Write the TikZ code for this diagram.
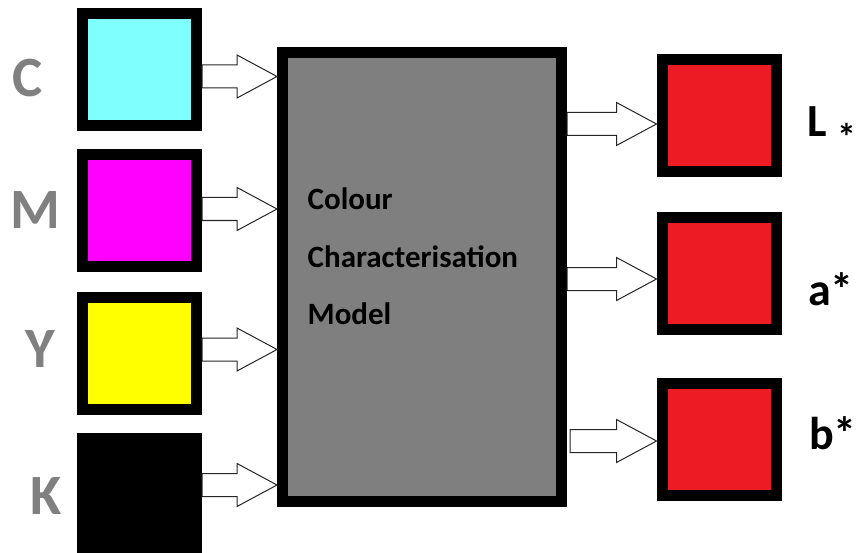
\documentclass[tikz,border=0pt]{standalone}
\usepackage{fontspec}
\setmainfont{Carlito}
\usetikzlibrary{calc}

\definecolor{cyanfill}{HTML}{80FFFF}
\definecolor{magentafill}{HTML}{FF00FF}
\definecolor{yellowfill}{HTML}{FFFF00}
\definecolor{outred}{HTML}{ED1C24}
\definecolor{modelgray}{HTML}{7F7F7F}
\definecolor{labelgray}{HTML}{808080}

\tikzset{
  swatch/.style={draw=black,line width=11pt,minimum width=114pt,minimum height=112pt,inner sep=0pt},
  modelbox/.style={draw=black,line width=11pt,fill=modelgray,minimum width=279pt,minimum height=449pt},
  modeltext/.style={font=\bfseries\fontsize{31}{36}\selectfont,inner sep=0pt,anchor=base west},
  inlabel/.style={font=\bfseries\fontsize{57}{60}\selectfont,text=labelgray,inner sep=0pt},
  outlabel/.style={font=\bfseries\fontsize{46}{50}\selectfont,inner sep=0pt,anchor=base west},
  arrowline/.style={draw=black!85,fill=white,line width=1pt,line join=miter}
}

% hollow block arrow from start point #1 to tip #2 (same height)
\newcommand{\fatarrow}[2]{%
  \draw[arrowline] ($(#1)+(0,-11.5)$) -- ($(#2)+(-40,-11.5)$) -- ($(#2)+(-40,-21.5)$)
    -- (#2) -- ($(#2)+(-40,21.5)$) -- ($(#2)+(-40,11.5)$) -- ($(#1)+(0,11.5)$) -- cycle;
}

\begin{document}
\begin{tikzpicture}[x=1pt,y=-1pt]
  \useasboundingbox (0,0) rectangle (858,553);

  % input inks
  \node[swatch,fill=cyanfill]    (boxC) at (139.5,69.5)  {};
  \node[swatch,fill=magentafill] (boxM) at (139.5,210.5) {};
  \node[swatch,fill=yellowfill]  (boxY) at (139.5,353.5) {};
  \node[swatch,fill=black]       (boxK) at (139.5,494.5) {};

  \node[inlabel] (labC) at (28,78)  {C};
  \node[inlabel] (labM) at (35,210) {M};
  \node[inlabel] (labY) at (40,349) {Y};
  \node[inlabel] (labK) at (46,496) {K};

  % the model
  \node[modelbox] (model) at (422,277) {};
  \foreach \word/\yy [count=\i] in {Colour/210,Characterisation/267,Model/324}
    \node[modeltext] (line\i) at (307.5,\yy) {\word};

  % outputs
  \node[swatch,fill=outred] (boxL) at (719,116)   {};
  \node[swatch,fill=outred] (boxA) at (719,273.5) {};
  \node[swatch,fill=outred] (boxB) at (719,439)   {};

  \node[outlabel] (labL) at (807.5,137) {L {\fontsize{38}{40}\selectfont\raisebox{-14pt}{*}}};
  \node[outlabel] (labA) at (808,305)   {a*};
  \node[outlabel] (labB) at (809,449)   {b*};

  % arrows into the model
  \foreach \sw/\dy in {C/7,M/-1.5,Y/-4,K/-9.5}
  {
    \coordinate (\sw-s) at ($(box\sw.east)+(0,\dy)$);
    \coordinate (\sw-t) at (model.west |- \sw-s);
    \fatarrow{\sw-s}{\sw-t}
  }

  % arrows out of the model
  \foreach \sw/\dy/\gap in {L/8/0,A/5.5/0,B/2/3}
  {
    \coordinate (\sw-t) at ($(box\sw.west)+(0,\dy)$);
    \coordinate (\sw-s) at ($(model.east |- \sw-t)+(\gap,0)$);
    \fatarrow{\sw-s}{\sw-t}
  }
\end{tikzpicture}
\end{document}
